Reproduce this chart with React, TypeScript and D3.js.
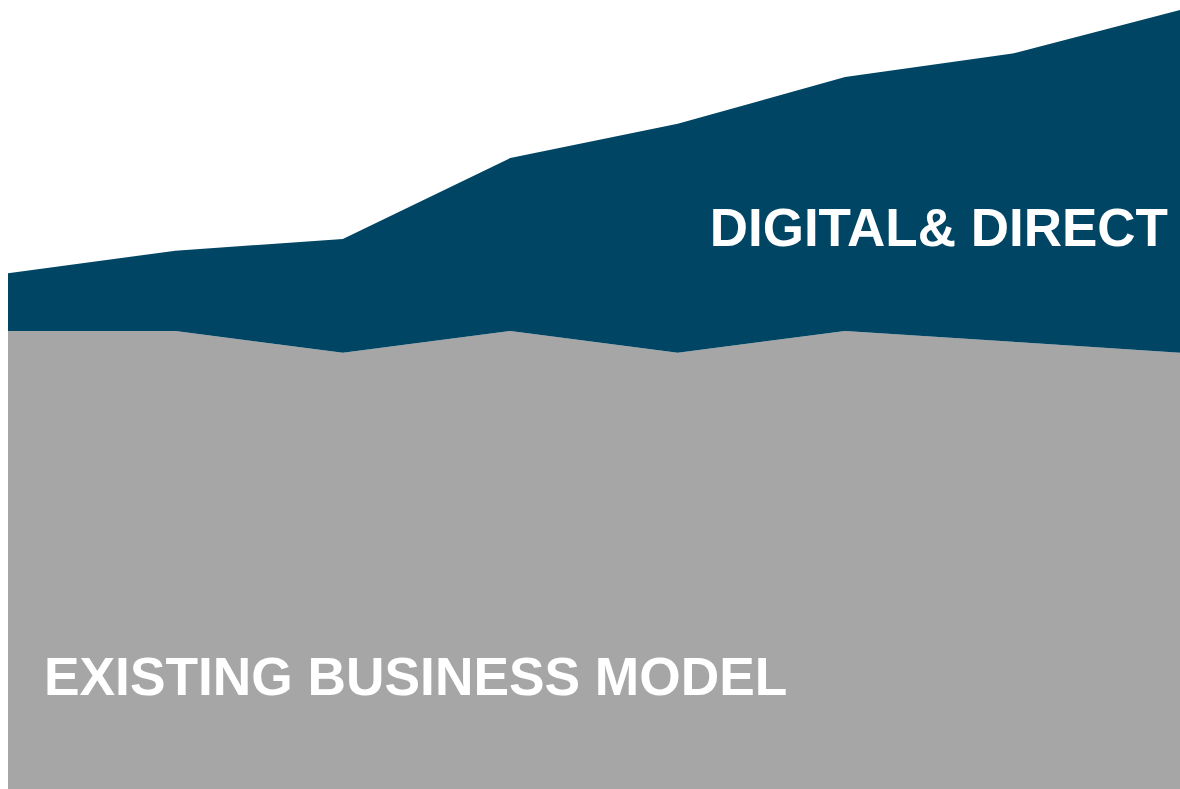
import React from "react";
import * as d3 from "d3";

const periods = ["P1", "P2", "P3", "P4", "P5", "P6", "P7", "P8"];
const existingBusiness = [58.8, 58.8, 56.0, 58.8, 56.0, 58.8, 57.4, 56.0];
const digitalDirect = [7.4, 10.3, 14.6, 22.2, 29.4, 32.6, 37.0, 44.0];
const seriesKeys = ["existing", "digital"];
const seriesColors = ["#A6A6A6", "#004664"];
const seriesLabels = ["EXISTING BUSINESS MODEL", "DIGITAL& DIRECT"];

const W = 1180;
const H = 789;

export default function App() {
  const rows = periods.map((p, i) => ({
    period: p,
    existing: existingBusiness[i],
    digital: digitalDirect[i],
  }));
  const stacked = d3.stack<any>().keys(seriesKeys)(rows);
  const x = d3.scalePoint<string>().domain(periods).range([8, 1180]);
  const y = d3.scaleLinear().domain([0, 100]).range([789, 10]);
  const area = d3
    .area<any>()
    .x((d) => x(d.data.period) as number)
    .y0((d) => y(d[0]))
    .y1((d) => y(d[1]));

  return (
    <svg
      width={W}
      height={H}
      style={{ position: "absolute", left: 0, top: 0, display: "block" }}
    >
      <rect x={0} y={0} width={W} height={H} fill="#FFFFFF" />
      {stacked.map((s, i) => (
        <path key={s.key} d={area(s) || ""} fill={seriesColors[i]} />
      ))}
      <text
        x={44}
        y={695}
        fill="#FFFFFF"
        fontFamily="'Liberation Sans', Arial, sans-serif"
        fontWeight="bold"
        fontSize={53.3}
      >
        {seriesLabels[0]}
      </text>
      <text
        x={1168}
        y={246}
        textAnchor="end"
        fill="#FFFFFF"
        fontFamily="'Liberation Sans', Arial, sans-serif"
        fontWeight="bold"
        fontSize={53}
      >
        {seriesLabels[1]}
      </text>
    </svg>
  );
}
